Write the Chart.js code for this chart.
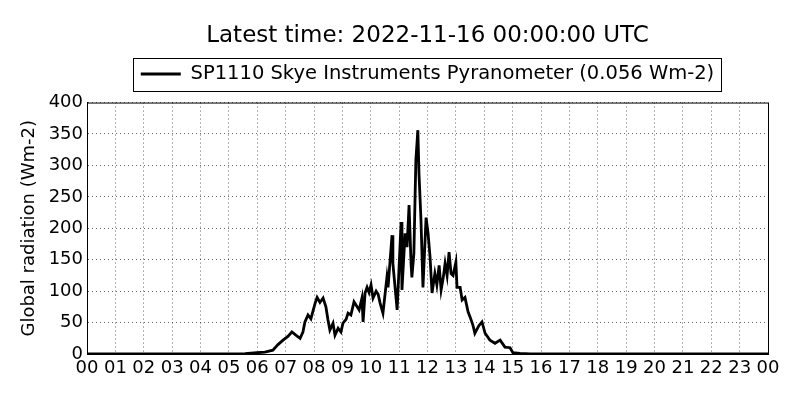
<!DOCTYPE html>
<html>
<head>
<meta charset="utf-8">
<script src="https://cdn.jsdelivr.net/npm/chart.js@4"></script>
<style>
  html, body { margin: 0; padding: 0; background: #fff; }
  #wrap { width: 800px; height: 400px; }
</style>
</head>
<body>
<div id="wrap"><canvas id="radChart" width="800" height="400"></canvas></div>
<script>
// time of day in hours (UTC) and global radiation in Wm-2
const hours = [0, 5.00, 5.57, 5.99, 6.27, 6.55, 6.73, 6.91, 7.08, 7.22, 7.36, 7.51, 7.61, 7.68, 7.79,
  7.89, 8.04, 8.11, 8.21, 8.32, 8.42, 8.49, 8.56, 8.67, 8.74, 8.85, 8.95, 9.02, 9.13, 9.20,
  9.30, 9.41, 9.52, 9.59, 9.69, 9.73, 9.80, 9.87, 9.94, 10.01, 10.08, 10.19, 10.26, 10.33, 10.43,
  10.57, 10.61, 10.75, 10.78, 10.93, 11.07, 11.10, 11.21, 11.28, 11.35, 11.42, 11.45, 11.52, 11.59, 11.66,
  11.70, 11.77, 11.84, 11.95, 12.02, 12.09, 12.16, 12.26, 12.33, 12.41, 12.48, 12.55, 12.62, 12.69, 12.76,
  12.83, 12.90, 13.00, 13.04, 13.15, 13.22, 13.32, 13.43, 13.50, 13.60, 13.67, 13.81, 13.92, 14.03, 14.20,
  14.38, 14.56, 14.73, 14.91, 15.01, 15.26, 15.61, 24];
const radiation = [0, 0, 0.5, 2, 3, 6, 15, 22, 28, 35, 30, 25, 35, 51, 62,
  56, 81, 90, 82, 89, 75, 55, 38, 49, 30, 41, 35, 49, 55, 65,
  62, 83, 75, 70, 89, 51, 97, 106, 98, 110, 89, 100, 95, 81, 65,
  122, 106, 189, 144, 70, 210, 102, 192, 170, 237, 144, 122, 160, 308, 356,
  287, 213, 106, 217, 192, 154, 97, 128, 110, 141, 102, 120, 144, 125, 162,
  128, 125, 146, 106, 106, 86, 90, 67, 59, 46, 33, 45, 51, 33, 22,
  17, 22, 11, 10, 2, 1, 0, 0];
const hourTicks = ['00','01','02','03','04','05','06','07','08','09','10','11','12',
  '13','14','15','16','17','18','19','20','21','22','23','00'];
const seriesName = 'SP1110 Skye Instruments Pyranometer (0.056 Wm-2)';
const titleText = 'Latest time: 2022-11-16 00:00:00 UTC';

const FONT = 'DejaVu Sans';

// matplotlib centres title and legend over the axes, not the figure
const centerPlugin = {
  id: 'centerOverAxes',
  afterLayout(chart) {
    const a = chart.chartArea;
    const cx = (a.left + a.right) / 2;
    const t = chart.titleBlock;
    const tdx = cx - (t.left + t.right) / 2;
    t.left += tdx; t.right += tdx;
    t.top += 2.5; t.bottom += 2.5;
    const lg = chart.legend;
    const ldx = cx - (lg.left + lg.right) / 2;
    const ldy = -8.8;
    lg.left += ldx; lg.right += ldx;
    lg.top += ldy; lg.bottom += ldy;
  }
};

// frame around plot + box around legend
const framePlugin = {
  id: 'frame',
  afterDraw(chart) {
    const ctx = chart.ctx;
    const a = chart.chartArea;
    ctx.save();
    ctx.strokeStyle = '#000';
    ctx.lineWidth = 1;
    ctx.strokeRect(a.left + 0.5, a.top + 0.5, a.right - a.left, a.bottom - a.top);
    const hb = chart.legend.legendHitBoxes[0];
    if (hb) {
      const cy = hb.top + hb.height / 2;
      const left = Math.round(hb.left) - 7.5;
      const right = Math.round(hb.left + hb.width) + 7.5;
      ctx.strokeRect(left, Math.round(cy - 16.5) + 0.5, right - left, 33);
    }
    ctx.restore();
  }
};

new Chart(document.getElementById('radChart'), {
  type: 'line',
  data: {
    datasets: [{
      label: seriesName,
      data: hours.map((h, i) => ({ x: h, y: radiation[i] })),
      borderColor: '#000',
      backgroundColor: '#000',
      borderWidth: 2.8,
      pointRadius: 0,
      tension: 0,
      fill: false
    }]
  },
  options: {
    responsive: false,
    animation: false,
    layout: { padding: { left: 0, right: 32, top: 0, bottom: 0 } },
    plugins: {
      title: {
        display: true,
        text: titleText,
        color: '#000',
        font: { family: FONT, size: 23, weight: 'normal' },
        padding: { top: 20, bottom: 13 }
      },
      legend: {
        display: true,
        labels: {
          color: '#000',
          font: { family: FONT, size: 19.5 },
          usePointStyle: true,
          pointStyle: 'line',
          pointStyleWidth: 40,
          padding: 12.45
        }
      },
      tooltip: { enabled: false }
    },
    scales: {
      x: {
        type: 'linear',
        min: 0,
        max: 24,
        afterFit(scale) { scale.height = 46; },
        afterBuildTicks(scale) {
          scale.ticks = hourTicks.map((_, i) => ({ value: i }));
        },
        ticks: {
          color: '#000',
          font: { family: FONT, size: 18 },
          padding: 4,
          maxRotation: 0,
          autoSkip: false,
          callback: (v, i) => hourTicks[i]
        },
        grid: {
          color: '#000',
          lineWidth: 0.6,
          drawTicks: false
        },
        border: { display: true, color: '#000', width: 1, dash: [1, 3] }
      },
      y: {
        min: 0,
        max: 400,
        afterFit(scale) { scale.width = 87; },
        ticks: {
          stepSize: 50,
          color: '#000',
          font: { family: FONT, size: 18 },
          padding: 4
        },
        title: {
          display: true,
          text: 'Global radiation (Wm-2)',
          color: '#000',
          font: { family: FONT, size: 18 },
          padding: { top: 19, bottom: 0 }
        },
        grid: {
          color: '#000',
          lineWidth: 0.6,
          drawTicks: false
        },
        border: { display: true, color: '#000', width: 1, dash: [1, 3] }
      }
    }
  },
  plugins: [centerPlugin, framePlugin]
});
</script>
</body>
</html>
